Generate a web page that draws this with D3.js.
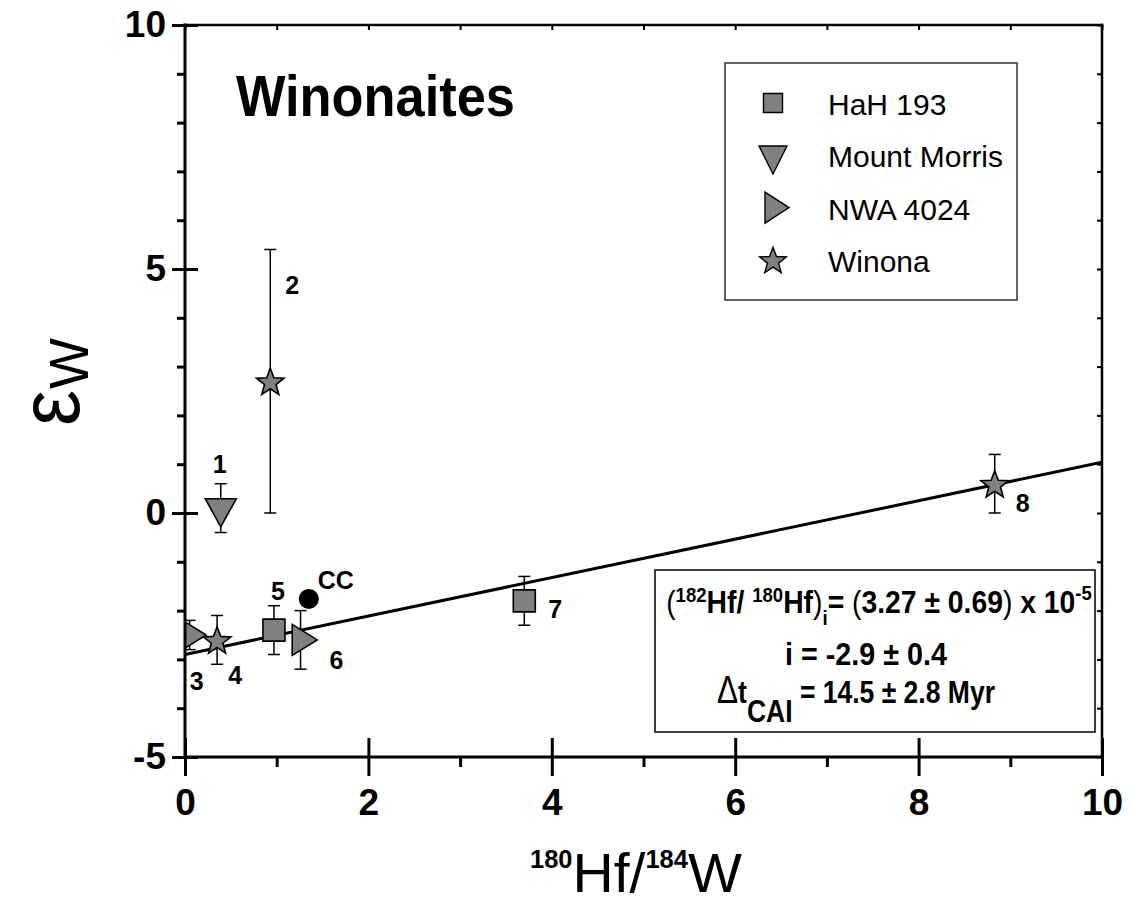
<!DOCTYPE html>
<html>
<head>
<meta charset="utf-8">
<script src="https://cdn.jsdelivr.net/npm/d3@7"></script>
<style>
  body { margin: 0; background: #fff; }
  svg { display: block; }
  text { font-family: "Liberation Sans", Arial, Helvetica, sans-serif; fill: #000; }
</style>
</head>
<body>
<svg id="chart" width="1131" height="905"></svg>
<script>
// Hf–W isochron of winonaite meteorites: epsilon-W versus 180Hf/184W
const sampleIds       = ["1", "2", "3", "4", "5", "6", "7", "8"];
const sampleMeteorite = ["Mount Morris", "Winona", "NWA 4024", "Winona", "HaH 193", "NWA 4024", "HaH 193", "Winona"];
const hfW             = [0.39, 0.93, 0.05, 0.35, 0.97, 1.26, 3.70, 8.83];
const epsW            = [0.1, 2.7, -2.5, -2.6, -2.4, -2.6, -1.8, 0.6];
const epsErr          = [0.5, 2.7, 0.3, 0.5, 0.5, 0.6, 0.5, 0.6];

// carbonaceous chondrite reference point
const ccLabel = "CC";
const ccHfW = 1.35;
const ccEpsW = -1.76;

// isochron regression (intercept i, slope in eps units per 180Hf/184W)
const isochronIntercept = -2.9;
const isochronSlope = 0.394;

const legendNames = ["HaH 193", "Mount Morris", "NWA 4024", "Winona"];
const xMajorTicks = [0, 2, 4, 6, 8, 10];
const xMinorTicks = [1, 3, 5, 7, 9];
const yMajorTicks = [-5, 0, 5, 10];
const yMinorTicks = [-4, -3, -2, -1, 1, 2, 3, 4, 6, 7, 8, 9];

// label placement relative to each marker (pixels)
const labelOffsets = [[-1, -44], [22, -96], [7, 46], [18, 35], [4, -39], [36, 20], [31, 8], [28, 19]];

const FONT = '"Liberation Sans", Arial, Helvetica, sans-serif';
const svg = d3.select("#chart");
const x = d3.scaleLinear().domain([0, 10]).range([185, 1102]);
const y = d3.scaleLinear().domain([-5, 10]).range([757, 25]);

// marker shapes, centred on their centroid
const shapes = {
  "HaH 193": s => { const h = s.w / 2; return `M${-h},${-h}H${h}V${h}H${-h}Z`; },
  "Mount Morris": s => `M${-s.w / 2},${-s.h / 3}L${s.w / 2},${-s.h / 3}L0,${2 * s.h / 3}Z`,
  "NWA 4024": s => `M${-s.w / 3},${-s.h / 2}L${2 * s.w / 3},0L${-s.w / 3},${s.h / 2}Z`,
  "Winona": s => {
    const R = s.w, r = R * 0.42, pts = [];
    for (let k = 0; k < 10; k++) {
      const a = -Math.PI / 2 + k * Math.PI / 5, rr = k % 2 ? r : R;
      pts.push([rr * Math.cos(a), rr * Math.sin(a) + R * 0.1]);
    }
    return "M" + pts.map(p => p.join(",")).join("L") + "Z";
  }
};
const plotSizes = { "HaH 193": { w: 22 }, "Mount Morris": { w: 31, h: 28 }, "NWA 4024": { w: 25, h: 31 }, "Winona": { w: 14.5 } };
const legendSizes = { "HaH 193": { w: 19 }, "Mount Morris": { w: 28, h: 28 }, "NWA 4024": { w: 24, h: 31 }, "Winona": { w: 14 } };

function squeeze(sel, targetW, anchorX) {
  const bb = sel.node().getBBox();
  const s = targetW / bb.width;
  sel.attr("transform", `translate(${anchorX},0) scale(${s},1) translate(${-anchorX},0)`);
}

// ---- data layer (clipped to the frame) ----
svg.append("defs").append("clipPath").attr("id", "plotClip").append("rect")
  .attr("x", x(0)).attr("y", y(10)).attr("width", x(10) - x(0)).attr("height", y(-5) - y(10));
const plot = svg.append("g").attr("clip-path", "url(#plotClip)");

plot.append("line")
  .attr("x1", x(0)).attr("y1", y(isochronIntercept))
  .attr("x2", x(10)).attr("y2", y(isochronIntercept + isochronSlope * 10))
  .attr("stroke", "#000").attr("stroke-width", 3);

const idx = d3.range(hfW.length);
const bars = plot.append("g").attr("stroke", "#000").attr("stroke-width", 1.5);
idx.forEach(i => {
  const cx = x(hfW[i]), yt = y(epsW[i] + epsErr[i]), yb = y(epsW[i] - epsErr[i]);
  bars.append("line").attr("x1", cx).attr("x2", cx).attr("y1", yt).attr("y2", yb);
  bars.append("line").attr("x1", cx - 6).attr("x2", cx + 6).attr("y1", yt).attr("y2", yt);
  bars.append("line").attr("x1", cx - 6).attr("x2", cx + 6).attr("y1", yb).attr("y2", yb);
});

plot.append("g").selectAll("path").data(idx).join("path")
  .attr("d", i => shapes[sampleMeteorite[i]](plotSizes[sampleMeteorite[i]]))
  .attr("transform", i => `translate(${x(hfW[i])},${y(epsW[i])})`)
  .attr("fill", "#808080").attr("stroke", "#000").attr("stroke-width", 1.6)
  .attr("stroke-linejoin", "miter");

plot.append("circle").attr("cx", x(ccHfW)).attr("cy", y(ccEpsW)).attr("r", 10).attr("fill", "#000");

// sample numbers
svg.append("g").selectAll("text").data(idx).join("text")
  .attr("x", i => x(hfW[i]) + labelOffsets[i][0])
  .attr("y", i => y(epsW[i]) + labelOffsets[i][1] + 9)
  .attr("text-anchor", "middle").attr("font-size", 25).attr("font-weight", "bold")
  .text(i => sampleIds[i]);
svg.append("text").attr("x", x(ccHfW) + 9).attr("y", y(ccEpsW) - 10)
  .attr("font-size", 25).attr("font-weight", "bold").text(ccLabel);

// ---- axes ----
const tickStyle = g => g.attr("font-family", FONT).attr("font-size", 37).attr("font-weight", "bold")
  .call(g => g.select(".domain").remove())
  .call(g => g.selectAll("line").attr("stroke", "#000").attr("stroke-width", 3))
  .call(g => g.selectAll("text").attr("fill", "#000"));
const blank = () => "";

svg.append("g").attr("transform", `translate(0,${y(-5)})`)
  .call(d3.axisBottom(x).tickValues(xMajorTicks).tickSize(19).tickSizeOuter(0).tickPadding(13).tickFormat(d => String(d)))
  .call(tickStyle);
svg.append("g").attr("transform", `translate(0,${y(-5)})`)
  .call(d3.axisTop(x).tickValues(xMajorTicks).tickSize(19).tickSizeOuter(0).tickFormat(blank)).call(tickStyle);
svg.append("g").attr("transform", `translate(0,${y(-5)})`)
  .call(d3.axisBottom(x).tickValues(xMinorTicks).tickSize(10).tickSizeOuter(0).tickFormat(blank)).call(tickStyle);

svg.append("g").attr("transform", `translate(${x(0)},0)`)
  .call(d3.axisLeft(y).tickValues(yMajorTicks).tickSize(13).tickSizeOuter(0).tickPadding(6).tickFormat(d => String(d)))
  .call(tickStyle);
svg.append("g").attr("transform", `translate(${x(0)},0)`)
  .call(d3.axisRight(y).tickValues(yMajorTicks).tickSize(13).tickSizeOuter(0).tickFormat(blank)).call(tickStyle);
svg.append("g").attr("transform", `translate(${x(0)},0)`)
  .call(d3.axisLeft(y).tickValues(yMinorTicks).tickSize(8).tickSizeOuter(0).tickFormat(blank)).call(tickStyle);

// mirrored inner ticks on top and right
svg.append("g").attr("transform", `translate(0,${y(10)})`)
  .call(d3.axisTop(x).tickValues(d3.range(0, 11)).tickSize(-5).tickSizeOuter(0).tickFormat(blank))
  .call(tickStyle).call(g => g.selectAll("line").attr("stroke-width", 2));
svg.append("g").attr("transform", `translate(${x(10)},0)`)
  .call(d3.axisRight(y).tickValues(d3.range(-5, 11)).tickSize(-5).tickSizeOuter(0).tickFormat(blank))
  .call(tickStyle).call(g => g.selectAll("line").attr("stroke-width", 2));

// frame
const frame = svg.append("g").attr("stroke", "#000").attr("stroke-linecap", "square");
frame.append("line").attr("x1", x(0)).attr("x2", x(10)).attr("y1", y(10)).attr("y2", y(10)).attr("stroke-width", 2.5);
frame.append("line").attr("x1", x(10)).attr("x2", x(10)).attr("y1", y(10)).attr("y2", y(-5)).attr("stroke-width", 2.5);
frame.append("line").attr("x1", x(0)).attr("x2", x(0)).attr("y1", y(10)).attr("y2", y(-5)).attr("stroke-width", 3);
frame.append("line").attr("x1", x(0)).attr("x2", x(10)).attr("y1", y(-5)).attr("y2", y(-5)).attr("stroke-width", 3);

// ---- axis titles ----
const xt = svg.append("text").attr("x", 530).attr("y", 892);
xt.append("tspan").attr("font-size", 25).attr("font-weight", "bold").attr("dy", -24).text("180");
xt.append("tspan").attr("font-size", 56).attr("dy", 24).text("Hf/");
xt.append("tspan").attr("font-size", 25).attr("font-weight", "bold").attr("dy", -24).text("184");
xt.append("tspan").attr("font-size", 56).attr("dy", 24).text("W");
squeeze(xt, 212, 530);

const eps = svg.append("text").attr("font-size", 86).text("ε");
const epsScale = 36 / eps.node().getComputedTextLength();
eps.attr("transform", `translate(79,426) rotate(-90) scale(${epsScale},1)`);
const wSub = svg.append("text").attr("font-size", 56).text("W");
const wScale = 51 / wSub.node().getComputedTextLength();
wSub.attr("transform", `translate(88,389) rotate(-90) scale(${wScale},1)`);

// ---- panel title ----
const title = svg.append("text").attr("x", 236).attr("y", 116)
  .attr("font-size", 57).attr("font-weight", "bold").text("Winonaites");
squeeze(title, 279, 236);

// ---- legend ----
const legend = svg.append("g");
legend.append("rect").attr("x", 725).attr("y", 63).attr("width", 292).attr("height", 237)
  .attr("fill", "#fff").attr("stroke", "#333").attr("stroke-width", 1.5);
legendNames.forEach((name, k) => {
  const cy = 103 + k * 52.3;
  legend.append("path").attr("d", shapes[name](legendSizes[name]))
    .attr("transform", `translate(773,${cy})`)
    .attr("fill", "#808080").attr("stroke", "#000").attr("stroke-width", 1.4);
  legend.append("text").attr("x", 828).attr("y", cy + 12).attr("font-size", 30).text(name);
});

// ---- isochron result box ----
const box = svg.append("g");
box.append("rect").attr("x", 655).attr("y", 570).attr("width", 440).attr("height", 162)
  .attr("fill", "#fff").attr("stroke", "#000").attr("stroke-width", 1.5);
const l1x = 879, l2x = 866, l3x = 856;
const l1 = box.append("text").attr("x", l1x).attr("y", 613).attr("text-anchor", "middle")
  .attr("font-size", 32).attr("font-weight", "bold");
l1.append("tspan").attr("font-weight", "normal").text("(");
l1.append("tspan").attr("font-size", 21).attr("dy", -11).text("182");
l1.append("tspan").attr("dy", 11).text("Hf/ ");
l1.append("tspan").attr("font-size", 21).attr("dy", -11).text("180");
l1.append("tspan").attr("dy", 11).text("Hf");
l1.append("tspan").attr("font-weight", "normal").text(")");
l1.append("tspan").attr("font-size", 21).attr("dy", 12).text("i");
l1.append("tspan").attr("dy", -12).text("= ");
l1.append("tspan").attr("font-weight", "normal").text("(");
l1.append("tspan").text("3.27 ± 0.69");
l1.append("tspan").attr("font-weight", "normal").text(")");
l1.append("tspan").text(" x 10");
l1.append("tspan").attr("font-size", 21).attr("dy", -13).text("-5");
squeeze(l1, 426, l1x);

const l2 = box.append("text").attr("x", l2x).attr("y", 665).attr("text-anchor", "middle")
  .attr("font-size", 32).attr("font-weight", "bold").text("i = -2.9 ± 0.4");
squeeze(l2, 162, l2x);

const l3 = box.append("text").attr("x", l3x).attr("y", 703).attr("text-anchor", "middle")
  .attr("font-size", 32).attr("font-weight", "bold");
l3.append("tspan").attr("font-weight", "normal").attr("font-size", 38).text("Δ");
l3.append("tspan").text("t");
l3.append("tspan").attr("dy", 19).text("CAI");
l3.append("tspan").attr("dy", -19).text(" = 14.5 ± 2.8 Myr");
squeeze(l3, 278, l3x);
</script>
</body>
</html>
